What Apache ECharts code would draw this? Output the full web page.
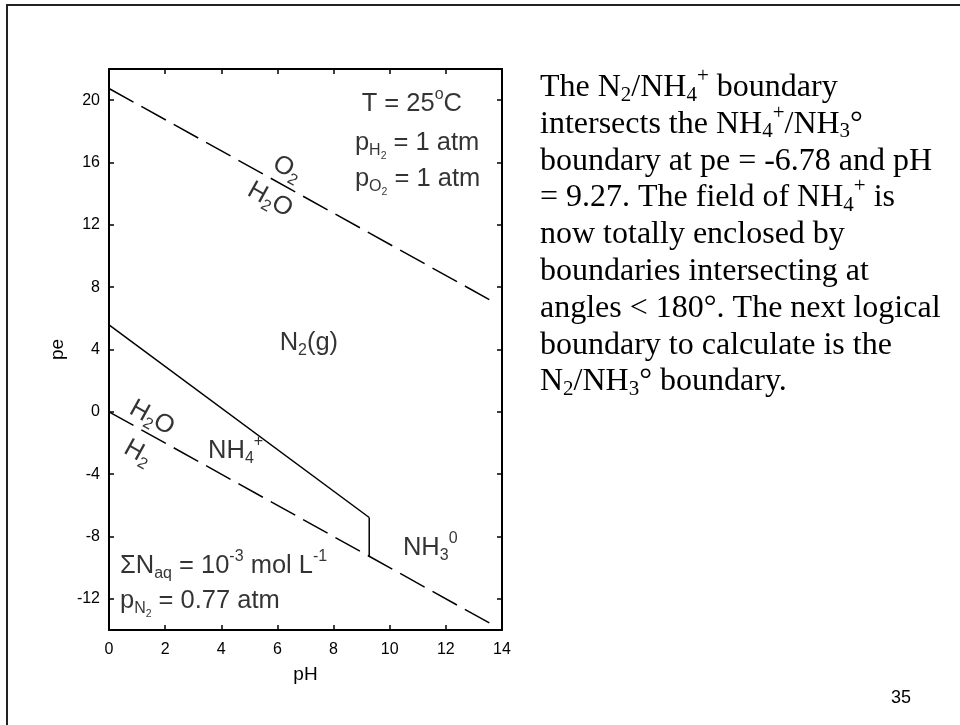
<!DOCTYPE html>
<html><head><meta charset="utf-8">
<script src="https://cdn.jsdelivr.net/npm/echarts@6/dist/echarts.min.js"></script>
<style>html,body{margin:0;padding:0;background:#fff}#c{width:960px;height:725px}</style>
</head><body><div id="c"></div>
<script>
// ---- data ----
const phTicks = [0, 2, 4, 6, 8, 10, 12, 14];
const peTicks = [-12, -8, -4, 0, 4, 8, 12, 16, 20];
const o2h2oPH = [0, 13.75];
const o2h2oPE = [20.75, 7.0];
const h2oh2PH = [0, 13.8];
const h2oh2PE = [0, -13.8];
const n2nh4PH = [0, 9.27];
const n2nh4PE = [5.58, -6.78];
const nh4nh3PH = [9.27, 9.27];
const nh4nh3PE = [-6.78, -9.27];

function pairs(xs, ys) { return xs.map((x, i) => [x, ys[i]]); }

const SANS = '"Liberation Sans", Arial, sans-serif';
const SERIF = '"Liberation Serif", "Times New Roman", serif';

const plotRich = {
  a: { fontFamily: SANS, fontSize: 25.5, color: '#000' },
  b: { fontFamily: SANS, fontSize: 16, color: '#000', padding: [15, 0, 0, 0] },
  c: { fontFamily: SANS, fontSize: 10.5, color: '#000', padding: [27, 0, 0, 0] },
  d: { fontFamily: SANS, fontSize: 16, color: '#000', padding: [0, 0, 19, 0] }
};

function note(x, y, text, pos, rot) {
  return {
    value: [x, y],
    label: {
      show: true, formatter: text, position: pos || 'inside', distance: 0, rotate: rot || 0,
      color: '#000', textBorderWidth: 0, rich: plotRich
    }
  };
}

const notes = [
  note(6.35, 15.6, '{a|O}{b|2}', 'inside', -29),
  note(5.74, 13.6, '{a|H}{b|2}{a|O}', 'inside', -29),
  note(9.0, 19.77, '{a|T = 25}{d|o}{a|C}', 'right'),
  note(8.76, 17.27, '{a|p}{b|H}{c|2}{a| = 1 atm}', 'right'),
  note(8.76, 14.95, '{a|p}{b|O}{c|2}{a| = 1 atm}', 'right'),
  note(7.12, 4.43, '{a|N}{b|2}{a|(g)}', 'inside'),
  note(1.53, -0.39, '{a|H}{b|2}{a|O}', 'inside', -29),
  note(1.03, -2.63, '{a|H}{b|2}', 'inside', -29),
  note(3.53, -2.5, '{a|NH}{b|4}{d|+}', 'right'),
  note(10.47, -8.73, '{a|NH}{b|3}{d|0}', 'right'),
  note(0.39, -9.88, '{a|ΣN}{b|aq}{a| = 10}{d|-3}{a| mol L}{d|-1}', 'right'),
  note(0.39, -12.13, '{a|p}{b|N}{c|2}{a| = 0.77 atm}', 'right')
];

const para = [
  '{t|The N}{s|2}{t|/NH}{s|4}{u|+}{t| boundary}',
  '{t|intersects the NH}{s|4}{u|+}{t|/NH}{s|3}{t|°}',
  '{t|boundary at pe = -6.78 and pH}',
  '{t|= 9.27. The field of NH}{s|4}{u|+}{t| is}',
  '{t|now totally enclosed by}',
  '{t|boundaries intersecting at}',
  '{t|angles < 180°. The next logical}',
  '{t|boundary to calculate is the}',
  '{t|N}{s|2}{t|/NH}{s|3}{t|° boundary.}'
];

const LH = 36.8;
const paraRich = {
  t: { fontFamily: SERIF, fontSize: 32, fill: '#000', lineHeight: LH },
  s: { fontFamily: SERIF, fontSize: 21, fill: '#000', lineHeight: LH, padding: [15, 0, 0, 0] },
  u: { fontFamily: SERIF, fontSize: 21, fill: '#000', lineHeight: LH, padding: [0, 0, 22, 0] }
};

const axisLineStyle = { color: '#000', width: 2 };
const tickStyle = { color: '#000', width: 1.5 };
const dashed = { color: '#000', width: 1.5, type: [28, 9] };
const solid = { color: '#000', width: 1.5 };

const chart = echarts.init(document.getElementById('c'), null, { renderer: 'canvas' });
chart.setOption({
  animation: false,
  backgroundColor: '#fff',
  textStyle: { fontFamily: SANS },
  grid: { left: 109, right: 458, top: 69, bottom: 95, containLabel: false, outerBoundsMode: 'none' },
  xAxis: [
    {
      type: 'value', min: 0, max: 14, interval: 2, position: 'bottom',
      name: 'pH', nameLocation: 'middle', nameGap: 35,
      nameTextStyle: { fontSize: 19, color: '#000', fontFamily: SANS },
      axisLine: { show: true, onZero: false, lineStyle: axisLineStyle },
      axisTick: { show: true, inside: true, length: 5, customValues: phTicks, lineStyle: tickStyle },
      axisLabel: { customValues: phTicks, fontSize: 16, color: '#000', margin: 12, fontFamily: SANS },
      splitLine: { show: false }
    },
    {
      type: 'value', min: 0, max: 14, interval: 2, position: 'top',
      axisLine: { show: true, onZero: false, lineStyle: axisLineStyle },
      axisTick: { show: true, inside: true, length: 5, customValues: phTicks, lineStyle: tickStyle },
      axisLabel: { show: false },
      splitLine: { show: false }
    }
  ],
  yAxis: [
    {
      type: 'value', min: -14, max: 22, position: 'left',
      name: 'pe', nameLocation: 'middle', nameGap: 42,
      nameTextStyle: { fontSize: 19, color: '#000', fontFamily: SANS },
      axisLine: { show: true, onZero: false, lineStyle: axisLineStyle },
      axisTick: { show: true, inside: true, length: 5, customValues: peTicks, lineStyle: tickStyle },
      axisLabel: { customValues: peTicks, fontSize: 16, color: '#000', margin: 9, fontFamily: SANS },
      splitLine: { show: false }
    },
    {
      type: 'value', min: -14, max: 22, position: 'right',
      axisLine: { show: true, onZero: false, lineStyle: axisLineStyle },
      axisTick: { show: true, inside: true, length: 5, customValues: peTicks, lineStyle: tickStyle },
      axisLabel: { show: false },
      splitLine: { show: false }
    }
  ],
  series: [
    { type: 'line', name: 'O2/H2O', data: pairs(o2h2oPH, o2h2oPE), symbol: 'none', lineStyle: dashed, z: 3 },
    { type: 'line', name: 'H2O/H2', data: pairs(h2oh2PH, h2oh2PE), symbol: 'none', lineStyle: dashed, z: 3 },
    { type: 'line', name: 'N2/NH4+', data: pairs(n2nh4PH, n2nh4PE), symbol: 'none', lineStyle: solid, z: 3 },
    { type: 'line', name: 'NH4+/NH3', data: pairs(nh4nh3PH, nh4nh3PE), symbol: 'none', lineStyle: solid, z: 3 },
    { type: 'scatter', name: 'labels', data: notes, symbolSize: 0, silent: true, z: 4 }
  ],
  graphic: [
    { type: 'rect', shape: { x: 7, y: 5, width: 1200, height: 1200 }, style: { fill: 'none', stroke: '#222', lineWidth: 2 }, silent: true },
    { type: 'text', left: 540, top: 66, style: { text: para.join('\n'), rich: paraRich, fill: '#000', font: '32px ' + SERIF } },
    { type: 'text', left: 891, top: 689, style: { text: '35', fill: '#000', font: '18px ' + SANS } }
  ]
});
</script>
</body></html>
